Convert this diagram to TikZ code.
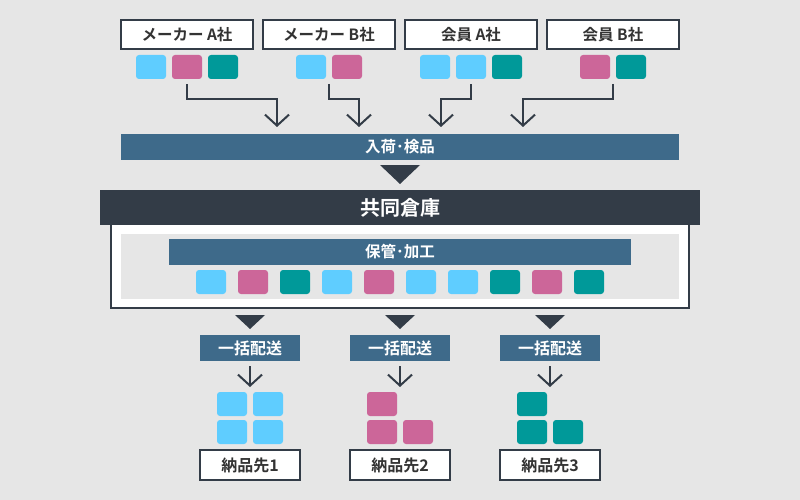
\documentclass[tikz,border=0pt]{standalone}
\usepackage{fontspec}
\setmainfont{Noto Sans CJK JP}[BoldFont=* Bold]
\usetikzlibrary{arrows.meta}
\definecolor{bg}{HTML}{E6E6E6}
\definecolor{dark}{HTML}{333C47}
\definecolor{barblue}{HTML}{3E6A8A}
\definecolor{cyanc}{HTML}{5FCDFF}
\definecolor{pinkc}{HTML}{CC6699}
\definecolor{tealc}{HTML}{009999}
\definecolor{txt}{HTML}{333333}
\tikzset{
  srcbox/.style={draw=dark, line width=1.2pt, fill=white, minimum width=132pt, minimum height=29pt, inner sep=0pt, text=txt, font=\bfseries\fontsize{15.5pt}{15.5pt}\selectfont},
  dstbox/.style={draw=dark, line width=1.2pt, fill=white, minimum width=100pt, minimum height=30pt, inner sep=0pt, text=txt, font=\bfseries\fontsize{16pt}{16pt}\selectfont},
  bluebar/.style={fill=barblue, inner sep=0pt, text=white, font=\bfseries\fontsize{15.5pt}{15.5pt}\selectfont},
  sq/.style={minimum width=30pt, minimum height=24pt, inner sep=0pt, rounded corners=3pt},
  sqc/.style={sq, fill=cyanc},
  sqp/.style={sq, fill=pinkc},
  sqt/.style={sq, fill=tealc},
  conn/.style={draw=dark, line width=2pt, -{Straight Barb[length=11pt,width=24pt]}},
  tri/.style={fill=dark}
}
\begin{document}
\begin{tikzpicture}[x=1pt,y=-1pt]
\fill[bg] (0,0) rectangle (800,500);
\useasboundingbox (0,0) rectangle (800,500);
% top source boxes
\node[srcbox] (m1) at (187,34.5) {メーカー A社};
\node[srcbox] (m2) at (329,34.5) {メーカー B社};
\node[srcbox] (m3) at (471,34.5) {会員 A社};
\node[srcbox] (m4) at (613,34.5) {会員 B社};
% top squares
\node[sqc] (s1a) at (151,67) {};
\node[sqp] (s1b) at (187,67) {};
\node[sqt] (s1c) at (223,67) {};
\node[sqc] (s2a) at (311,67) {};
\node[sqp] (s2b) at (347,67) {};
\node[sqc] (s3a) at (435,67) {};
\node[sqc] (s3b) at (471,67) {};
\node[sqt] (s3c) at (507,67) {};
\node[sqp] (s4a) at (595,67) {};
\node[sqt] (s4b) at (631,67) {};
% inbound bar
\node[bluebar, minimum width=558pt, minimum height=26pt] (inbar) at (400,147) {入荷･検品};
\coordinate (a1) at (277,127);
\coordinate (a2) at (359,127);
\coordinate (a3) at (441,127);
\coordinate (a4) at (523,127);
\coordinate (o2) at (329,84);
\coordinate (o4) at (613,84);
\draw[conn] ([yshift=-5pt]s1b.south) -- ++(0,15) -| (a1);
\draw[conn] (o2) -- ++(0,15) -| (a2);
\draw[conn] ([yshift=-5pt]s3b.south) -- ++(0,15) -| (a3);
\draw[conn] (o4) -- ++(0,15) -| (a4);
% triangle to warehouse
\fill[tri] (380,165) -- (420,165) -- (400,184) -- cycle;
% warehouse
\draw[dark, line width=2pt, fill=white] (111,222) rectangle (689,308);
\fill[bg] (121,234) rectangle (679,299);
\node[fill=dark, minimum width=600pt, minimum height=35pt, inner sep=0pt, text=white, font=\bfseries\fontsize{20pt}{20pt}\selectfont] (wh) at (400,207.5) {共同倉庫};
\node[bluebar, minimum width=462pt, minimum height=26pt] (proc) at (400,252) {保管･加工};
\node[sqc] (w1) at (211,282) {};
\node[sqp] (w2) at (253,282) {};
\node[sqt] (w3) at (295,282) {};
\node[sqc] (w4) at (337,282) {};
\node[sqp] (w5) at (379,282) {};
\node[sqc] (w6) at (421,282) {};
\node[sqc] (w7) at (463,282) {};
\node[sqt] (w8) at (505,282) {};
\node[sqp] (w9) at (547,282) {};
\node[sqt] (w10) at (589,282) {};
% bottom columns
\foreach \x/\n in {250/1,400/2,550/3}{
  \fill[tri] (\x-15,315) -- (\x+15,315) -- (\x,329) -- cycle;
  \node[bluebar, minimum width=100pt, minimum height=26pt, font=\bfseries\fontsize{16pt}{16pt}\selectfont] (d\n) at (\x,348) {一括配送};
  \coordinate (t\n) at (\x,387);
  \draw[conn] ([yshift=-5pt]d\n.south) -- (t\n);
  \node[dstbox] (n\n) at (\x,465) {納品先\n};
}
\node[sqc] (c1a) at (232,404) {};
\node[sqc] (c1b) at (268,404) {};
\node[sqc] (c1c) at (232,432) {};
\node[sqc] (c1d) at (268,432) {};
\node[sqp] (c2a) at (382,404) {};
\node[sqp] (c2b) at (382,432) {};
\node[sqp] (c2c) at (418,432) {};
\node[sqt] (c3a) at (532,404) {};
\node[sqt] (c3b) at (532,432) {};
\node[sqt] (c3c) at (568,432) {};
\end{tikzpicture}
\end{document}
